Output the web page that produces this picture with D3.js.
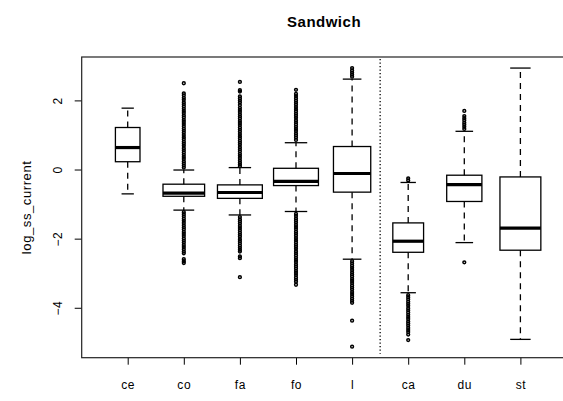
<!DOCTYPE html>
<html>
<head>
<meta charset="utf-8">
<script src="https://cdn.jsdelivr.net/npm/d3@7"></script>
<style>
  body { margin: 0; background: #fff; }
  svg text { font-family: "Liberation Sans", Arial, sans-serif; fill: #000; }
</style>
</head>
<body>
<div id="chart"></div>
<script>
// Data Stuff
var groups    = ["ce", "co", "fa", "fo", "l", "ca", "du", "st"];
var counts    = [300, 860, 1000, 1000, 690, 470, 615, 830];
var whiskLow  = [-0.69, -1.16, -1.30, -1.20, -2.58, -3.55, -2.10, -4.90];
var quart1    = [0.24, -0.76, -0.82, -0.45, -0.64, -2.38, -0.91, -2.32];
var medians   = [0.65, -0.67, -0.65, -0.33, -0.10, -2.06, -0.42, -1.68];
var quart3    = [1.23, -0.41, -0.43, 0.05, 0.68, -1.53, -0.15, -0.20];
var whiskHigh = [1.79, 0.00, 0.07, 0.79, 2.63, -0.36, 1.12, 2.95];
var outliers = [
  [],
  [2.51, 2.22, 2.16, 2.09, 2.03, 1.96, 1.90, 1.84, 1.77, 1.71, 1.65, 1.58, 1.52, 1.45, 1.39, 1.33, 1.27, 1.20,
   1.14, 1.08, 1.01, 0.95, 0.89, 0.82, 0.76, 0.70, 0.63, 0.57, 0.51, 0.44, 0.38, 0.32, 0.25, 0.19, 0.13, 0.07,
   -1.22, -1.28, -1.34, -1.41, -1.47, -1.53, -1.60, -1.66, -1.72, -1.79, -1.85, -1.91, -1.98, -2.04, -2.10,
   -2.17, -2.23, -2.29, -2.36, -2.41, -2.58, -2.64, -2.69],
  [2.55, 2.31, 2.27, 2.13, 2.07, 2.01, 1.95, 1.88, 1.80, 1.74, 1.68, 1.61, 1.55, 1.49, 1.42, 1.36, 1.30, 1.23,
   1.17, 1.11, 1.04, 0.98, 0.92, 0.85, 0.79, 0.73, 0.66, 0.60, 0.54, 0.47, 0.41, 0.35, 0.28, 0.22, 0.16, 0.11,
   -1.36, -1.43, -1.49, -1.55, -1.62, -1.68, -1.74, -1.81, -1.87, -1.93, -2.00, -2.06, -2.12, -2.19, -2.25,
   -2.31, -2.36, -2.50, -2.55, -3.10],
  [2.32, 2.20, 2.14, 2.08, 2.01, 1.95, 1.89, 1.82, 1.76, 1.70, 1.63, 1.57, 1.51, 1.44, 1.38, 1.32, 1.25, 1.19,
   1.13, 1.06, 1.00, 0.94, 0.87,
   -1.27, -1.33, -1.40, -1.46, -1.52, -1.59, -1.65, -1.71, -1.78, -1.84, -1.90, -1.97, -2.03, -2.09, -2.16,
   -2.22, -2.28, -2.35, -2.41, -2.47, -2.54, -2.60, -2.66, -2.73, -2.79, -2.85, -2.92, -2.98, -3.04, -3.11,
   -3.17, -3.23, -3.32],
  [2.70, 2.76, 2.82, 2.88, 2.95,
   -2.64, -2.70, -2.77, -2.83, -2.89, -2.96, -3.02, -3.08, -3.15, -3.21, -3.27, -3.34, -3.40, -3.46, -3.53,
   -3.59, -3.65, -3.72, -3.78, -3.84, -4.36, -5.11],
  [-0.30, -0.24,
   -3.62, -3.68, -3.74, -3.81, -3.87, -3.93, -4.00, -4.06, -4.12, -4.19, -4.25, -4.31, -4.38, -4.44, -4.50,
   -4.57, -4.63, -4.69, -4.76, -4.92],
  [1.19, 1.25, 1.31, 1.37, 1.44, 1.50, 1.56, 1.71, -2.67],
  []
];
var yTicks = [2, 0, -2, -4];
var splitAt = 5.5; // dotted line between the two sets
var titleText = "Sandwich";
var yLabel = "log_ss_current";

// Layout
var W = 563, H = 401;
var plotL = 81.7, plotR = 566.4, plotT = 57, plotB = 357.7;

var x = d3.scaleLinear().domain([0.18, 8.82]).range([plotL, plotR]);
var y = d3.scaleLinear().domain([-5.43, 3.27]).range([plotB, plotT]);
var unit = x(2) - x(1);
var maxN = d3.max(counts);

var svg = d3.select("#chart").append("svg")
    .attr("width", W)
    .attr("height", H);

// Title + labels
svg.append("text")
    .attr("x", (plotL + plotR) / 2)
    .attr("y", 27)
    .attr("text-anchor", "middle")
    .style("font-size", "15px")
    .style("font-weight", "bold")
    .style("letter-spacing", "0.5px")
    .text(titleText);

svg.append("text")
    .attr("transform", "translate(31," + ((plotT + plotB) / 2) + ") rotate(-90)")
    .attr("text-anchor", "middle")
    .style("font-size", "13px")
    .style("letter-spacing", "0.6px")
    .text(yLabel);

// Axes (R style: ticks outside, no domain line)
var yAxis = svg.append("g")
    .attr("transform", "translate(" + plotL + ",0)")
    .call(d3.axisLeft(y).tickValues(yTicks).tickSize(7).tickFormat(d3.format("d")));
yAxis.select(".domain").remove();
yAxis.selectAll("text")
    .attr("x", null).attr("dy", null)
    .attr("text-anchor", "middle")
    .attr("transform", function(d) { return "translate(-20," + y(d) + ") rotate(-90)"; })
    .attr("y", 0)
    .style("font-size", "12px")
    .style("letter-spacing", "0.5px")
    .style("font-family", "Liberation Sans, Arial, sans-serif");
yAxis.selectAll(".tick").attr("transform", null);
yAxis.selectAll(".tick line").attr("y1", function(d) { return y(d); }).attr("y2", function(d) { return y(d); });

var xAxis = svg.append("g")
    .attr("transform", "translate(0," + plotB + ")")
    .call(d3.axisBottom(x).tickValues(d3.range(1, groups.length + 1)).tickSize(7)
      .tickFormat(function(d) { return groups[d - 1]; }));
xAxis.select(".domain").remove();
xAxis.selectAll("text")
    .attr("y", 27)
    .attr("dy", "0.35em")
    .style("font-size", "12px")
    .style("letter-spacing", "0.6px")
    .style("font-family", "Liberation Sans, Arial, sans-serif");

// Plot frame
svg.append("rect")
    .attr("x", plotL).attr("y", plotT)
    .attr("width", plotR - plotL).attr("height", plotB - plotT)
    .attr("fill", "none")
    .attr("stroke", "#222")
    .attr("stroke-width", 1.2);

// Dotted divider
svg.append("line")
    .attr("x1", x(splitAt)).attr("x2", x(splitAt))
    .attr("y1", plotT + 2).attr("y2", plotB - 4)
    .attr("stroke", "#000")
    .attr("stroke-width", 1.3)
    .attr("stroke-dasharray", "1.3,2.2");

// Draw the boxes
var boxes = svg.selectAll(".bx")
    .data(groups)
    .enter()
    .append("g")
      .attr("class", "bx");

boxes.each(function(g, i) {
  var G = d3.select(this);
  var cx = x(i + 1);
  var bw = 0.8 * Math.sqrt(counts[i] / maxN) * unit;
  var cw = bw / 2;

  // whiskers
  G.append("line")
      .attr("x1", cx).attr("x2", cx)
      .attr("y1", y(quart3[i])).attr("y2", y(whiskHigh[i]))
      .attr("stroke", "#000").attr("stroke-width", 1.3)
      .attr("stroke-dasharray", "6,5");
  G.append("line")
      .attr("x1", cx).attr("x2", cx)
      .attr("y1", y(quart1[i])).attr("y2", y(whiskLow[i]))
      .attr("stroke", "#000").attr("stroke-width", 1.3)
      .attr("stroke-dasharray", "6,5");
  // staples
  [whiskHigh[i], whiskLow[i]].forEach(function(v) {
    G.append("line")
        .attr("x1", cx - cw / 2).attr("x2", cx + cw / 2)
        .attr("y1", y(v)).attr("y2", y(v))
        .attr("stroke", "#000").attr("stroke-width", 1.3);
  });
  // box
  G.append("rect")
      .attr("x", cx - bw / 2).attr("y", y(quart3[i]))
      .attr("width", bw).attr("height", y(quart1[i]) - y(quart3[i]))
      .attr("fill", "none")
      .attr("stroke", "#000").attr("stroke-width", 1.3);
  // median
  G.append("line")
      .attr("x1", cx - bw / 2).attr("x2", cx + bw / 2)
      .attr("y1", y(medians[i])).attr("y2", y(medians[i]))
      .attr("stroke", "#000").attr("stroke-width", 3.2);
  // outliers
  G.selectAll("circle")
    .data(outliers[i])
    .enter()
    .append("circle")
      .attr("cx", cx)
      .attr("cy", function(d) { return y(d); })
      .attr("r", 1.4)
      .attr("fill", "none")
      .attr("stroke", "#000")
      .attr("stroke-width", 1.5);
});
</script>
</body>
</html>
